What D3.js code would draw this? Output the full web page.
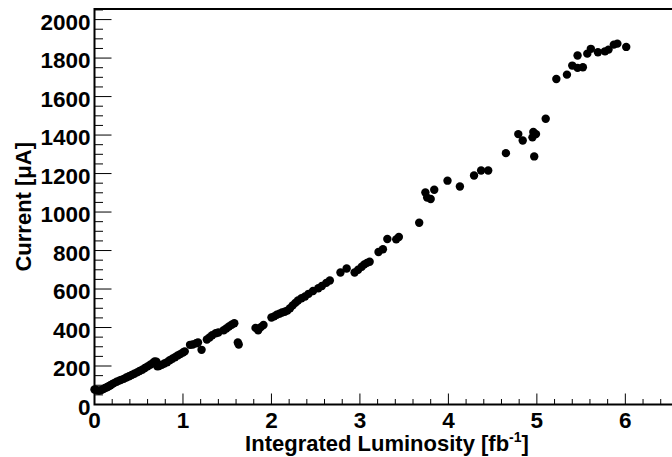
<!DOCTYPE html>
<html>
<head>
<meta charset="utf-8">
<script src="https://cdn.jsdelivr.net/npm/d3@7"></script>
<style>
  body { margin: 0; background: #fff; }
  svg { display: block; }
  text { font-family: "Liberation Sans", Arial, sans-serif; font-weight: bold; fill: #000; }
</style>
</head>
<body>
<svg id="chart" width="672" height="457"></svg>
<script>
/* =======================
   DATA
======================= */
const lumi = [
  0.00, 0.02, 0.04, 0.06, 0.08, 0.10, 0.12, 0.14, 0.16, 0.18,
  0.20, 0.22, 0.25, 0.28, 0.30, 0.33, 0.36, 0.39, 0.42, 0.45,
  0.48, 0.51, 0.54, 0.57, 0.60, 0.63, 0.66, 0.68, 0.70, 0.71,
  0.73, 0.76, 0.79, 0.82, 0.85, 0.88, 0.91, 0.94, 0.97, 1.00,
  1.02, 1.08, 1.11, 1.15, 1.17, 1.21, 1.27, 1.30, 1.33, 1.37,
  1.40, 1.46, 1.49, 1.52, 1.55, 1.58, 1.62, 1.63, 1.82, 1.85,
  1.88, 1.91, 2.00, 2.03, 2.06, 2.09, 2.12, 2.15, 2.18, 2.21,
  2.24, 2.27, 2.30, 2.34, 2.38, 2.42, 2.47, 2.53, 2.57, 2.62,
  2.66, 2.78, 2.85, 2.94, 2.98, 3.02, 3.05, 3.08, 3.11, 3.21,
  3.26, 3.31, 3.41, 3.44, 3.67, 3.74, 3.76, 3.80, 3.84, 3.99,
  4.13, 4.29, 4.37, 4.45, 4.65, 4.79, 4.84, 4.95, 4.96, 4.99,
  4.97, 5.10, 5.22, 5.34, 5.40, 5.46, 5.52, 5.46, 5.57, 5.61,
  5.69, 5.77, 5.81, 5.87, 5.91, 6.01
];
const current = [
  78, 75, 72, 72, 76, 80, 86, 90, 95, 100,
  106, 111, 118, 124, 128, 133, 140, 147, 153, 160,
  167, 174, 181, 190, 198, 207, 216, 224, 222, 198,
  200, 206, 213, 220, 230, 238, 246, 255, 262, 270,
  276, 310, 312, 318, 322, 284, 338, 348, 360, 370,
  374, 386, 395, 405, 414, 422, 322, 312, 398, 385,
  402, 413, 452, 458, 466, 472, 478, 482, 488, 500,
  515, 528, 540, 552, 561, 575, 590, 604, 616, 632,
  644, 686, 707, 686, 700, 716, 728, 736, 742, 792,
  807, 860, 858, 870, 944, 1102, 1075, 1068, 1116, 1163,
  1133, 1190, 1216, 1216, 1306, 1405, 1372, 1388, 1416, 1405,
  1289, 1485, 1691, 1714, 1761, 1749, 1752, 1813, 1823, 1848,
  1830, 1835, 1844, 1870, 1875, 1858
];
const xMajorTicks = [0, 1, 2, 3, 4, 5, 6];
const yMajorTicks = [0, 200, 400, 600, 800, 1000, 1200, 1400, 1600, 1800, 2000];
const xTitle = "Integrated Luminosity [fb";
const yTitle = "Current [\u03bcA]";

/* =======================
   CHART
======================= */
const frame = { left: 94.5, right: 674, top: 9, bottom: 404.5 };

const svg = d3.select("#chart");

const xScale = d3.scaleLinear().domain([0, 6.55]).range([frame.left, frame.right]);
const yScale = d3.scaleLinear().domain([0, 2055]).range([frame.bottom, frame.top]);

// minor ticks
const xMinor = d3.range(0, 6.55, 0.2).filter(v => !xMajorTicks.some(m => Math.abs(m - v) < 1e-6));
const yMinor = d3.range(0, 2055, 50).filter(v => v % 200 !== 0);

const gx = svg.append("g");
gx.selectAll(".xmaj").data(xMajorTicks).enter().append("line")
  .attr("x1", d => xScale(d)).attr("x2", d => xScale(d))
  .attr("y1", frame.bottom).attr("y2", frame.bottom - 11)
  .attr("stroke", "#000").attr("stroke-width", 1);
gx.selectAll(".xmin").data(xMinor).enter().append("line")
  .attr("x1", d => xScale(d)).attr("x2", d => xScale(d))
  .attr("y1", frame.bottom).attr("y2", frame.bottom - 5.5)
  .attr("stroke", "#000").attr("stroke-width", 1);
gx.selectAll("text").data(xMajorTicks).enter().append("text")
  .attr("x", d => xScale(d)).attr("y", 428)
  .attr("text-anchor", "middle").attr("font-size", 22.5)
  .text(d => d);

const gy = svg.append("g");
gy.selectAll(".ymaj").data(yMajorTicks).enter().append("line")
  .attr("x1", frame.left).attr("x2", frame.left + 17)
  .attr("y1", d => yScale(d)).attr("y2", d => yScale(d))
  .attr("stroke", "#000").attr("stroke-width", 1);
gy.selectAll(".ymin").data(yMajorTicks.length ? yMinor : []).enter().append("line")
  .attr("x1", frame.left).attr("x2", frame.left + 8.5)
  .attr("y1", d => yScale(d)).attr("y2", d => yScale(d))
  .attr("stroke", "#000").attr("stroke-width", 1);
gy.selectAll("text").data(yMajorTicks).enter().append("text")
  .attr("x", 90.5).attr("y", d => yScale(d) + 10)
  .attr("text-anchor", "end").attr("font-size", 22.5)
  .text(d => d);

// frame
svg.append("rect")
  .attr("x", frame.left).attr("y", frame.top)
  .attr("width", frame.right - frame.left).attr("height", frame.bottom - frame.top)
  .attr("fill", "none").attr("stroke", "#000").attr("stroke-width", 2);

// points
svg.append("g").selectAll("circle").data(lumi.map((x, i) => ({ x, y: current[i] })))
  .enter().append("circle")
  .attr("cx", d => xScale(d.x)).attr("cy", d => yScale(d.y))
  .attr("r", 4.2).attr("fill", "#000");

// axis titles
const xt = svg.append("text")
  .attr("x", 387).attr("y", 451)
  .attr("text-anchor", "middle").attr("font-size", 22);
xt.append("tspan").text(xTitle);
xt.append("tspan").attr("font-size", 14).attr("dy", -9).text("-1");
xt.append("tspan").attr("dy", 9).text("]");

svg.append("text")
  .attr("transform", `translate(31,${(frame.top + frame.bottom) / 2}) rotate(-90)`)
  .attr("text-anchor", "middle").attr("font-size", 22)
  .text(yTitle);
</script>
</body>
</html>
